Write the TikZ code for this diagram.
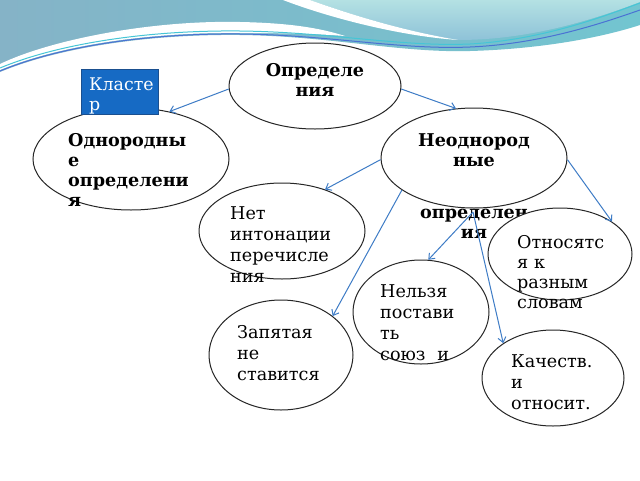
\documentclass[tikz,border=0pt]{standalone}
\usepackage{fontspec}
\setmainfont{DejaVu Serif}
\usetikzlibrary{arrows.meta,shapes.geometric}
\definecolor{linkblue}{HTML}{3E7CC6}
\definecolor{bandL}{HTML}{85B3C7}
\definecolor{bandR}{HTML}{72C5D0}
\definecolor{lightT}{HTML}{B4E1E3}
\definecolor{lightB}{HTML}{8EC2D8}
\definecolor{lineCyan}{HTML}{45C6D6}
\definecolor{lineBlue}{HTML}{4A72D4}
\definecolor{boxBlue}{HTML}{166AC4}
\definecolor{boxEdge}{HTML}{1A4F8F}
\begin{document}
\begin{tikzpicture}[x=1pt,y=-1pt,
  oval/.style={ellipse, draw=black!85, line width=1pt, fill=white, inner sep=0pt},
  txt/.style={anchor=base west, align=left, inner sep=0pt, text width=160pt,
    font=\fontsize{17.6}{21}\selectfont},
  btxt/.style={anchor=base west, align=left, inner sep=0pt, text width=170pt,
    font=\fontsize{17.6}{20}\selectfont\bfseries},
  link/.style={draw=linkblue, line width=1pt, -{Straight Barb[length=5pt,width=8pt]}}]
\path[use as bounding box] (0,0) rectangle (640,480);
\fill[white] (0,0) rectangle (640,480);
% decorative band
\shade[left color=bandL, right color=bandR] (0,0) -- (640,0) -- (640,25)
  .. controls (600,38) and (540,49) .. (470,51)
  .. controls (400,53) and (330,36) .. (240,35)
  .. controls (150,34) and (60,47) .. (0,72) -- cycle;
\fill[white] (0,64) .. controls (50,40) and (150,20) .. (240,22)
  .. controls (290,23) and (320,28) .. (345,36)
  .. controls (320,34) and (290,33) .. (240,33)
  .. controls (150,32) and (60,45) .. (0,70) -- cycle;
\shade[top color=lightT, bottom color=lightB] (310,0) -- (640,0) -- (640,2)
  .. controls (580,25) and (520,40) .. (458,40)
  .. controls (410,32) and (360,18) .. (310,0) -- cycle;
\fill[white] (283,0) -- (310,0) .. controls (360,18) and (410,32) .. (458,40)
  .. controls (400,36) and (330,18) .. (283,0) -- cycle;
\draw[lineCyan, line width=1pt] (0,68) .. controls (60,43) and (150,30) .. (240,31)
  .. controls (330,32) and (400,47) .. (470,44)
  .. controls (540,40) and (600,18) .. (640,3);
\draw[lineBlue, line width=1pt] (0,71) .. controls (60,46) and (150,33) .. (240,34)
  .. controls (330,35) and (400,50) .. (470,47)
  .. controls (540,44) and (600,24) .. (640,10);
% ellipses
\node[oval, minimum width=172pt, minimum height=86pt] (n0) at (315,86) {};
\node[oval, minimum width=196pt, minimum height=102pt] (n1) at (131,159) {};
\node[oval, minimum width=186pt, minimum height=100pt] (n2) at (474,158) {};
\node[oval, minimum width=166pt, minimum height=96pt] (n4) at (282,231) {};
\node[oval, minimum width=136pt, minimum height=104pt] (n6) at (421,312) {};
\node[oval, minimum width=144pt, minimum height=110pt] (n7) at (281,355) {};
\node[oval, minimum width=142pt, minimum height=96pt] (n8) at (553,378) {};
% cluster box
\node[draw=boxEdge, fill=boxBlue, line width=0.8pt, minimum width=77pt, minimum height=45pt, inner sep=0pt] (k) at (119.5,91.5) {};
\node[anchor=base west, align=left, inner sep=0pt, text width=70pt, text=white,
  font=\fontsize{17.4}{20}\selectfont] (kt) at (89,90) {Класте\\р};
% texts
\node[btxt, text width=130pt, align=center, anchor=base] (t0) at (315,76) {Определе\\ния};
\node[btxt] (t1) at (68,146) {Однородны\\е\\определени\\я};
\node[btxt, text width=150pt, align=center, anchor=base] (t2) at (474,146) {Неоднород\\ные\\[32pt]определен\\ия};
\node[txt] (t4) at (230,219) {Нет\\интонации\\перечисле\\ния};
\node[txt] (t6) at (380,297) {Нельзя\\постави\\ть\\союз~ и};
\node[txt] (t7) at (237,338) {Запятая\\не\\ставится};
\node[txt] (t8) at (511,367) {Качеств.\\и\\относит.};
\node[oval, minimum width=144pt, minimum height=92pt] (n5) at (560,254) {};
\node[txt, font=\fontsize{17.6}{20}\selectfont] (t5) at (517,248) {Относятс\\я к\\разным\\словам};
% connectors
\coordinate (src) at (473,212);
\draw[link] (n0.182) -- (n1.51);
\draw[link] (n0.358) -- (n2.110);
\draw[link] (n2.181) -- (n4.44);
\draw[link] (n2.204) -- (n7.37);
\draw[link] (n2.359) -- (n5.32);
\draw[link] (src) -- (n6.82);
\draw[link] (src) -- (n8.145);
\end{tikzpicture}
\end{document}
